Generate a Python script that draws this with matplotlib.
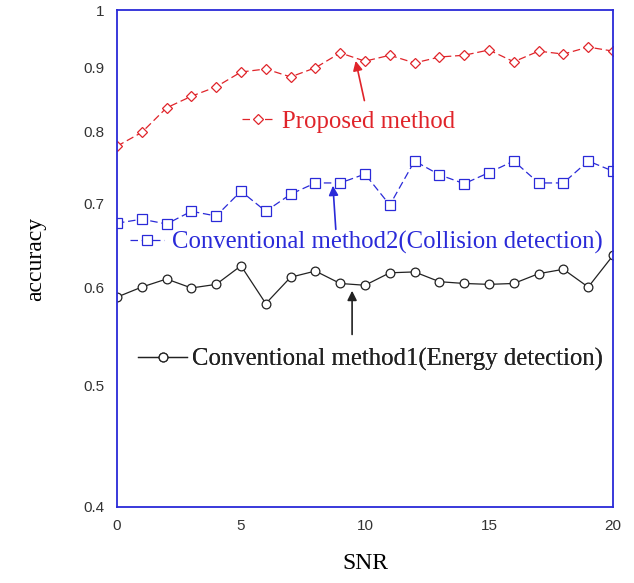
import numpy as np
import matplotlib.pyplot as plt
from matplotlib.lines import Line2D

snr = np.arange(0, 21)

proposed = [0.778, 0.798, 0.835, 0.853, 0.868, 0.892, 0.897, 0.884, 0.899, 0.924, 0.910,
            0.920, 0.907, 0.917, 0.920, 0.929, 0.909, 0.927, 0.922, 0.934, 0.927]
collision = [0.675, 0.680, 0.674, 0.690, 0.684, 0.716, 0.690, 0.712, 0.727, 0.727, 0.739,
             0.698, 0.757, 0.738, 0.726, 0.741, 0.757, 0.727, 0.727, 0.757, 0.743]
energy = [0.589, 0.600, 0.609, 0.599, 0.603, 0.624, 0.582, 0.611, 0.618, 0.604, 0.602,
          0.616, 0.617, 0.606, 0.604, 0.603, 0.604, 0.615, 0.620, 0.600, 0.636]

names = ['Proposed method', 'Conventional method2(Collision detection)',
         'Conventional method1(Energy detection)']
yticks = [0.4, 0.5, 0.6, 0.7, 0.8, 0.9, 1]
ytick_labels = ['0.4', '0.5', '0.6', '0.7', '0.8', '0.9', '1']

red, blue, black = '#e0242a', '#2a2ad8', '#222222'
serif = 'Liberation Serif'

fig = plt.figure(figsize=(6.34, 5.83), dpi=100)
ax = fig.add_axes([0.1845, 0.1304, 0.7824, 0.8524])

ax.plot(snr, proposed, color=red, lw=0.9, ls=(0, (6, 3)), marker='D', ms=5.5,
        mfc='white', mec=red, mew=0.9)
ax.plot(snr, collision, color=blue, lw=0.9, ls=(0, (6, 3)), marker='s', ms=7,
        mfc='white', mec=blue, mew=0.9)
ax.plot(snr, energy, color=black, lw=0.9, marker='o', ms=6.3,
        mfc='white', mec=black, mew=0.9)

ax.set_yscale('log')
ax.set_xlim(0, 20)
ax.set_ylim(0.4, 1)
ax.set_xticks([0, 5, 10, 15, 20])
ax.set_yticks(yticks)
ax.set_yticklabels(ytick_labels)
ax.yaxis.set_minor_locator(plt.NullLocator())
ax.tick_params(length=0, labelsize=11, labelcolor='#333333', pad=9)
for lab in ax.get_xticklabels() + ax.get_yticklabels():
    lab.set_fontfamily('Liberation Sans')
for s in ax.spines.values():
    s.set_color(blue)
    s.set_linewidth(1.3)

ax.set_xlabel('SNR', fontfamily=serif, fontsize=17, labelpad=14)
ax.set_ylabel('accuracy', fontfamily=serif, fontsize=17, labelpad=27)

# arrows pointing at the curves
arrow = dict(arrowstyle='-|>', lw=1.2, mutation_scale=14)
ax.annotate('', xy=(9.6, 0.915), xytext=(10.0, 0.842),
            arrowprops=dict(arrow, color=red))
ax.annotate('', xy=(8.7, 0.727), xytext=(8.83, 0.664),
            arrowprops=dict(arrow, color=blue))
ax.annotate('', xy=(9.48, 0.599), xytext=(9.48, 0.547),
            arrowprops=dict(arrow, color=black))

# one small legend per curve, placed inside the plot
specs = [
    (names[0], red, (0, (6, 3)), 'D', 5.5, (0.252, 0.775), 1.3, 0.3),
    (names[1], blue, (0, (6, 3)), 's', 7, (0.026, 0.533), 1.4, 0.3),
    (names[2], black, '-', 'o', 6.3, (0.042, 0.296), 2.0, 0.2),
]
for name, col, ls, mk, ms, pos, hl, hp in specs:
    h = Line2D([], [], color=col, lw=0.9, ls=ls, marker=mk, ms=ms,
               mfc='white', mec=col, mew=0.9)
    leg = ax.legend([h], [name], loc='center left', bbox_to_anchor=pos,
                    frameon=False, borderpad=0, borderaxespad=0,
                    handlelength=hl, handletextpad=hp,
                    prop={'family': serif, 'size': 17.8})
    for t in leg.get_texts():
        t.set_color(col)
    ax.add_artist(leg)

plt.savefig('out.png', dpi=100)
